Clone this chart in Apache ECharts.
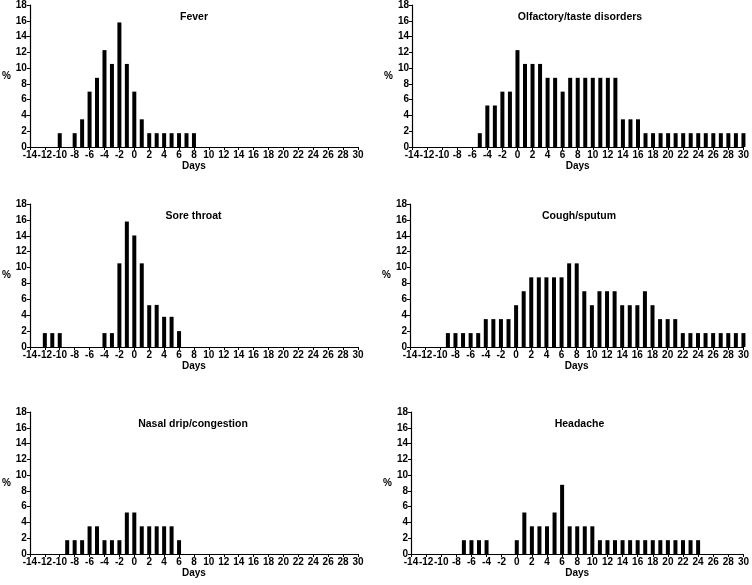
<!DOCTYPE html>
<html>
<head>
<meta charset="utf-8">
<script src="https://cdn.jsdelivr.net/npm/echarts@6/dist/echarts.min.js"></script>
<style>
html,body{margin:0;padding:0;background:#fff;}
#chart{width:752px;height:585px;}
</style>
</head>
<body>
<div id="chart"></div>
<script>
const days = [-14,-13,-12,-11,-10,-9,-8,-7,-6,-5,-4,-3,-2,-1,0,1,2,3,4,5,6,7,8,9,10,11,12,13,14,15,16,17,18,19,20,21,22,23,24,25,26,27,28,29,30];
const titles = ["Fever","Olfactory/taste disorders","Sore throat","Cough/sputum","Nasal drip/congestion","Headache"];
const fever = [0,0,0,0,1.75,0,1.75,3.51,7.02,8.77,12.28,10.53,15.79,10.53,7.02,3.51,1.75,1.75,1.75,1.75,1.75,1.75,1.75,0,0,0,0,0,0,0,0,0,0,0,0,0,0,0,0,0,0,0,0,0,0];
const olfactory = [0,0,0,0,0,0,0,0,0,1.75,5.26,5.26,7.02,7.02,12.28,10.53,10.53,10.53,8.77,8.77,7.02,8.77,8.77,8.77,8.77,8.77,8.77,8.77,3.51,3.51,3.51,1.75,1.75,1.75,1.75,1.75,1.75,1.75,1.75,1.75,1.75,1.75,1.75,1.75,1.75];
const soreThroat = [0,0,1.75,1.75,1.75,0,0,0,0,0,1.75,1.75,10.53,15.79,14.04,10.53,5.26,5.3,3.8,3.8,2.0,0,0,0,0,0,0,0,0,0,0,0,0,0,0,0,0,0,0,0,0,0,0,0,0];
const cough = [0,0,0,0,0,1.75,1.75,1.75,1.75,1.75,3.51,3.51,3.51,3.51,5.26,7.02,8.77,8.77,8.77,8.77,8.77,10.53,10.53,7.02,5.26,7.02,7.02,7.02,5.26,5.26,5.26,7.02,5.26,3.51,3.51,3.51,1.75,1.75,1.75,1.75,1.75,1.75,1.75,1.75,1.75];
const nasal = [0,0,0,0,0,1.75,1.75,1.75,3.51,3.51,1.75,1.75,1.75,5.26,5.26,3.51,3.51,3.51,3.51,3.51,1.75,0,0,0,0,0,0,0,0,0,0,0,0,0,0,0,0,0,0,0,0,0,0,0,0];
const headache = [0,0,0,0,0,0,0,1.75,1.75,1.75,1.75,0,0,0,1.75,5.26,3.51,3.51,3.51,5.26,8.77,3.51,3.51,3.51,3.51,1.75,1.75,1.75,1.75,1.75,1.75,1.75,1.75,1.75,1.75,1.75,1.75,1.75,1.75,0,0,0,0,0,0];
const seriesValues = [fever, olfactory, soreThroat, cough, nasal, headache];

const gridPos = [
  {left:26, top:5, width:332, height:142},
  {left:412, top:5, width:332, height:142},
  {left:25, top:204, width:333, height:143},
  {left:410, top:204, width:334, height:143},
  {left:24, top:412, width:334, height:142},
  {left:411, top:412, width:333, height:142}
];

const font = 'Liberation Sans, Arial, Helvetica, sans-serif';
const labelStyle = {color:'#000', fontWeight:'bold', fontSize:10, fontFamily:font};
const grids = [], xAxes = [], yAxes = [], series = [];
gridPos.forEach((g, i) => {
  grids.push(Object.assign({containLabel:false}, g));
  xAxes.push({
    type:'value', gridIndex:i, min:-14, max:30, interval:2,
    axisLine:{show:true, onZero:false, lineStyle:{color:'#000', width:1.2}},
    axisTick:{show:true, length:3, lineStyle:{color:'#000'}},
    axisLabel:Object.assign({margin:3, showMinLabel:true, showMaxLabel:true}, labelStyle),
    splitLine:{show:false},
    name:'Days', nameLocation:'middle', nameGap:11,
    nameTextStyle:labelStyle
  });
  yAxes.push({
    type:'value', gridIndex:i, min:0, max:18, interval:2,
    axisLine:{show:true, onZero:false, lineStyle:{color:'#000', width:1.2}},
    axisTick:{show:true, length:3, lineStyle:{color:'#000'}},
    axisLabel:Object.assign({margin:3}, labelStyle),
    splitLine:{show:false},
    name:'%', nameLocation:'middle', nameGap:19, nameRotate:0,
    nameTextStyle:labelStyle
  });
  series.push({
    type:'bar', xAxisIndex:i, yAxisIndex:i, barWidth:4,
    itemStyle:{color:'#000'},
    data: days.map((d, k) => [d, seriesValues[i][k]])
  });
});

const titleOpts = gridPos.map((g, i) => ({
  text: titles[i],
  left: g.left + g.width/2 - 3, top: g.top + 2, textAlign:'center',
  textStyle:Object.assign({}, labelStyle, {fontSize:10.5})
}));

const chart = echarts.init(document.getElementById('chart'), null, {renderer:'canvas'});
chart.setOption({
  animation:false,
  backgroundColor:'#fff',
  title: titleOpts,
  grid: grids,
  xAxis: xAxes,
  yAxis: yAxes,
  series: series
});
</script>
</body>
</html>
